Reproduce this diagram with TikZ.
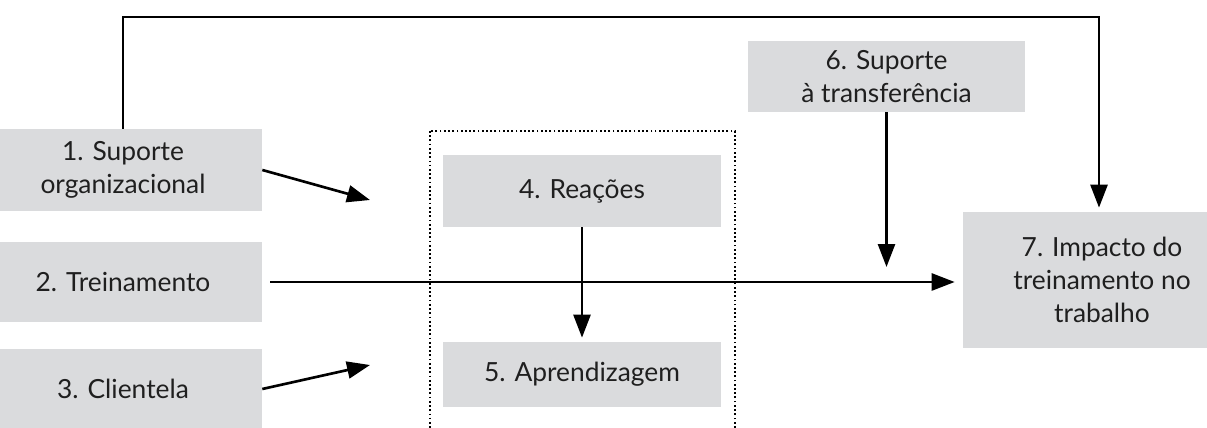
\documentclass[tikz,border=0pt]{standalone}
\usepackage{fontspec}
\setmainfont{Lato}
\usetikzlibrary{arrows.meta}

\definecolor{boxgray}{RGB}{218,219,221}

\tikzset{
  box/.style={fill=boxgray, inner sep=0pt, minimum width=5.56cm, align=center,
    text=black!88, font=\fontsize{15}{18.8}\selectfont},
  arr/.style={line width=1.5pt, -{Triangle[length=4.6mm,width=3.4mm]}},
  frame/.style={line width=1pt, dash pattern=on 1pt off 1.4pt}
}

\begin{document}
\begin{tikzpicture}[x=0.02cm, y=-0.02cm]

% Fix the page to the size of the figure
\useasboundingbox (0,0) rectangle (1207,428);
\clip (0,0) rectangle (1207,428);

% Dotted frame around reactions and learning
\draw[frame] (430,131) rectangle (735,460);

% Boxes on the left
\node[box, minimum height=1.64cm] (suporte) at (123,170) {1. Suporte\\organizacional};
\node[box, minimum height=1.6cm] (treino) at (123,282) {2. Treinamento};
\node[box, minimum height=1.6cm] (cliente) at (123,389) {3. Clientela};

% Boxes in the middle
\node[box, minimum height=1.44cm] (reacoes) at (582,191) {4. Reações};
\node[box, minimum height=1.3cm] (aprend) at (582,374.5) {5. Aprendizagem};

% Boxes on the right
\node[box, minimum height=1.42cm] (transf) at (886.5,76.5) {6. Suporte\\à transferência};
\node[box, minimum height=2.72cm] (impacto) at (1102,280) {7. Impacto do\\treinamento no\\trabalho};

% Free ends of the arrows
\coordinate (in1) at (370,200);
\coordinate (in3) at (370,365);
\coordinate (in6) at (886.5,267);
\coordinate (corner) at (1099,17);

% Arrows
\draw[arr] (suporte.east) -- (in1);
\draw[arr] (cliente.east) -- (in3);
\draw[arr, shorten <=0.16cm, shorten >=0.16cm] (treino.east) -- (treino.east -| impacto.west);
\draw[arr, shorten >=0.08cm] (reacoes.south) -- (aprend.north);
\draw[arr] (transf.south) -- (in6);
\draw[arr, shorten >=0.08cm] (suporte.north) |- (corner) -- (corner |- impacto.north);

\end{tikzpicture}
\end{document}
